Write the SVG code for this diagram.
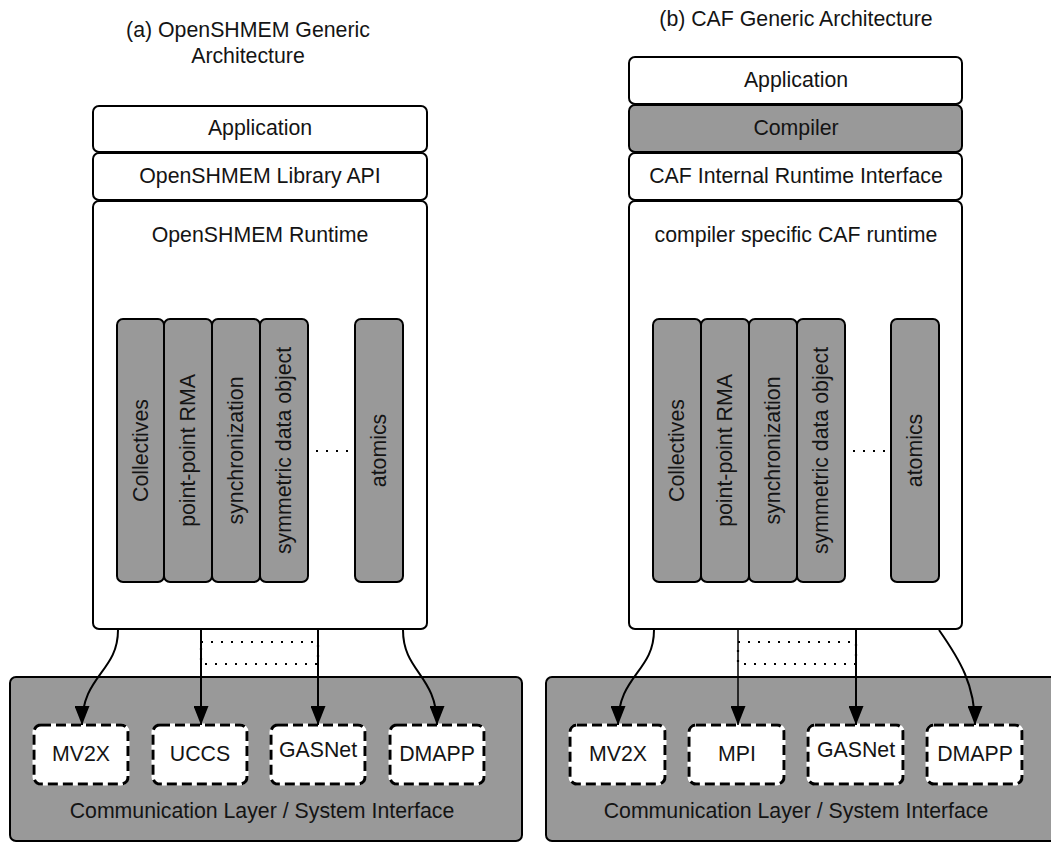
<svg xmlns="http://www.w3.org/2000/svg" width="1051" height="842" viewBox="0 0 1051 842">
  <style>
    text { font-family: "Liberation Sans", Arial, sans-serif; font-size: 21.3px; fill: #141414; text-anchor: middle; }
    .box { fill: #ffffff; stroke: #000; stroke-width: 2; }
    .gray { fill: #999999; stroke: #000; stroke-width: 2; }
    .dash-under { fill: #ffffff; stroke: #ffffff; stroke-width: 3; }
    .dash { fill: none; stroke: #000; stroke-width: 3; stroke-dasharray: 10 5; }
    .vlabel { dominant-baseline: central; }
    .dots { fill: none; stroke: #000; stroke-width: 2.2; stroke-dasharray: 2 8; }
    .link { fill: none; stroke: #000; stroke-width: 2; marker-end: url(#arrow); }
  </style>
  <defs>
    <marker id="arrow" markerUnits="userSpaceOnUse" viewBox="0 0 19 15" markerWidth="19" markerHeight="15" refX="19" refY="7.5" orient="auto">
      <path d="M0,0 L19,7.5 L0,15 z" fill="#000"/>
    </marker>
  </defs>

  <rect width="1051" height="842" fill="#ffffff"/>

  <!-- Titles -->
  <g id="title-a">
    <text x="248" y="37">(a) OpenSHMEM Generic</text>
    <text x="248" y="63">Architecture</text>
  </g>
  <g id="title-b">
    <text x="796" y="26">(b) CAF Generic Architecture</text>
  </g>

  <!-- Communication layers (drawn first so the runtime boxes sit above) -->
  <g id="comm-a">
    <rect class="gray" x="10" y="677" width="512" height="164" rx="6"/>
    <text x="262" y="818">Communication Layer / System Interface</text>
  </g>
  <g id="comm-b">
    <rect class="gray" x="546" y="677" width="530" height="164" rx="6"/>
    <text x="796" y="818">Communication Layer / System Interface</text>
  </g>

  <!-- OpenSHMEM stack -->
  <g id="a-application">
    <rect class="box" x="93" y="106" width="334" height="46" rx="6"/>
    <text x="260" y="135">Application</text>
  </g>
  <g id="a-library-api">
    <rect class="box" x="93" y="153" width="334" height="47" rx="6"/>
    <text x="260" y="183">OpenSHMEM Library API</text>
  </g>
  <g id="a-runtime">
    <rect class="box" x="93" y="201" width="334" height="428" rx="6"/>
    <text x="260" y="242">OpenSHMEM Runtime</text>
  </g>
  <g id="a-collectives">
    <rect class="gray" x="117" y="319" width="47" height="263" rx="6"/>
    <text class="vlabel" transform="translate(140.5,450.5) rotate(-90)">Collectives</text>
  </g>
  <g id="a-rma">
    <rect class="gray" x="164" y="319" width="48" height="263" rx="6"/>
    <text class="vlabel" transform="translate(188,450.5) rotate(-90)">point-point RMA</text>
  </g>
  <g id="a-sync">
    <rect class="gray" x="212" y="319" width="48" height="263" rx="6"/>
    <text class="vlabel" transform="translate(236,450.5) rotate(-90)">synchronization</text>
  </g>
  <g id="a-symmetric">
    <rect class="gray" x="260" y="319" width="48" height="263" rx="6"/>
    <text class="vlabel" transform="translate(284,450.5) rotate(-90)">symmetric data object</text>
  </g>
  <g id="a-atomics">
    <rect class="gray" x="355" y="319" width="48" height="263" rx="6"/>
    <text class="vlabel" transform="translate(379,450.5) rotate(-90)">atomics</text>
  </g>
  <g id="a-ellipsis">
    <line class="dots" x1="316" y1="451" x2="354" y2="451"/>
  </g>

  <!-- CAF stack -->
  <g id="b-application">
    <rect class="box" x="629" y="57" width="333" height="47" rx="6"/>
    <text x="796" y="87">Application</text>
  </g>
  <g id="b-compiler">
    <rect class="gray" x="629" y="105" width="333" height="47" rx="6"/>
    <text x="796" y="135">Compiler</text>
  </g>
  <g id="b-internal-interface">
    <rect class="box" x="629" y="153" width="333" height="47" rx="6"/>
    <text x="796" y="183">CAF Internal Runtime Interface</text>
  </g>
  <g id="b-runtime">
    <rect class="box" x="629" y="201" width="333" height="428" rx="6"/>
    <text x="796" y="242">compiler specific CAF runtime</text>
  </g>
  <g id="b-collectives">
    <rect class="gray" x="653" y="319" width="48" height="263" rx="6"/>
    <text class="vlabel" transform="translate(677,450.5) rotate(-90)">Collectives</text>
  </g>
  <g id="b-rma">
    <rect class="gray" x="701" y="319" width="48" height="263" rx="6"/>
    <text class="vlabel" transform="translate(725,450.5) rotate(-90)">point-point RMA</text>
  </g>
  <g id="b-sync">
    <rect class="gray" x="749" y="319" width="48" height="263" rx="6"/>
    <text class="vlabel" transform="translate(773,450.5) rotate(-90)">synchronization</text>
  </g>
  <g id="b-symmetric">
    <rect class="gray" x="797" y="319" width="48" height="263" rx="6"/>
    <text class="vlabel" transform="translate(821,450.5) rotate(-90)">symmetric data object</text>
  </g>
  <g id="b-atomics">
    <rect class="gray" x="891" y="319" width="48" height="263" rx="6"/>
    <text class="vlabel" transform="translate(915,450.5) rotate(-90)">atomics</text>
  </g>
  <g id="b-ellipsis">
    <line class="dots" x1="853" y1="451" x2="891" y2="451"/>
  </g>

  <!-- Back-end transports: OpenSHMEM -->
  <g id="a-mv2x">
    <rect class="dash-under" x="34" y="725" width="94" height="59" rx="7"/>
    <rect class="dash" x="34" y="725" width="94" height="59" rx="7"/>
    <text x="81" y="761">MV2X</text>
  </g>
  <g id="a-uccs">
    <rect class="dash-under" x="153" y="725" width="94" height="59" rx="7"/>
    <rect class="dash" x="153" y="725" width="94" height="59" rx="7"/>
    <text x="200" y="761">UCCS</text>
  </g>
  <g id="a-gasnet">
    <rect class="dash-under" x="271" y="725" width="94" height="59" rx="7"/>
    <rect class="dash" x="271" y="725" width="94" height="59" rx="7"/>
    <text x="318" y="757">GASNet</text>
  </g>
  <g id="a-dmapp">
    <rect class="dash-under" x="390" y="725" width="94" height="59" rx="7"/>
    <rect class="dash" x="390" y="725" width="94" height="59" rx="7"/>
    <text x="437" y="761">DMAPP</text>
  </g>

  <!-- Back-end transports: CAF -->
  <g id="b-mv2x">
    <rect class="dash-under" x="570" y="725" width="95" height="59" rx="7"/>
    <rect class="dash" x="570" y="725" width="95" height="59" rx="7"/>
    <text x="618" y="761">MV2X</text>
  </g>
  <g id="b-mpi">
    <rect class="dash-under" x="689" y="725" width="95" height="59" rx="7"/>
    <rect class="dash" x="689" y="725" width="95" height="59" rx="7"/>
    <text x="737" y="761">MPI</text>
  </g>
  <g id="b-gasnet">
    <rect class="dash-under" x="808" y="725" width="95" height="59" rx="7"/>
    <rect class="dash" x="808" y="725" width="95" height="59" rx="7"/>
    <text x="856" y="757">GASNet</text>
  </g>
  <g id="b-dmapp">
    <rect class="dash-under" x="927" y="725" width="95" height="59" rx="7"/>
    <rect class="dash" x="927" y="725" width="95" height="59" rx="7"/>
    <text x="975" y="761">DMAPP</text>
  </g>

  <!-- Connectors from the runtimes down to the transports -->
  <g id="connectors">
    <rect class="dots" x="201" y="642" width="117" height="22"/>
    <rect class="dots" x="738" y="642" width="118" height="22"/>

    <path class="link" d="M118,630 C118,672 82,675 82,725"/>
    <path class="link" d="M201,630 L201,725"/>
    <path class="link" d="M318,630 L318,725"/>
    <path class="link" d="M403,630 C403,672 437,675 437,725"/>

    <path class="link" d="M654,630 C654,672 618,675 618,725"/>
    <path class="link" style="stroke-width:1.5" d="M738,630 L738,725"/>
    <path class="link" d="M856,630 L856,725"/>
    <path class="link" d="M939,630 C960,660 975,685 975,725"/>
  </g>
</svg>
